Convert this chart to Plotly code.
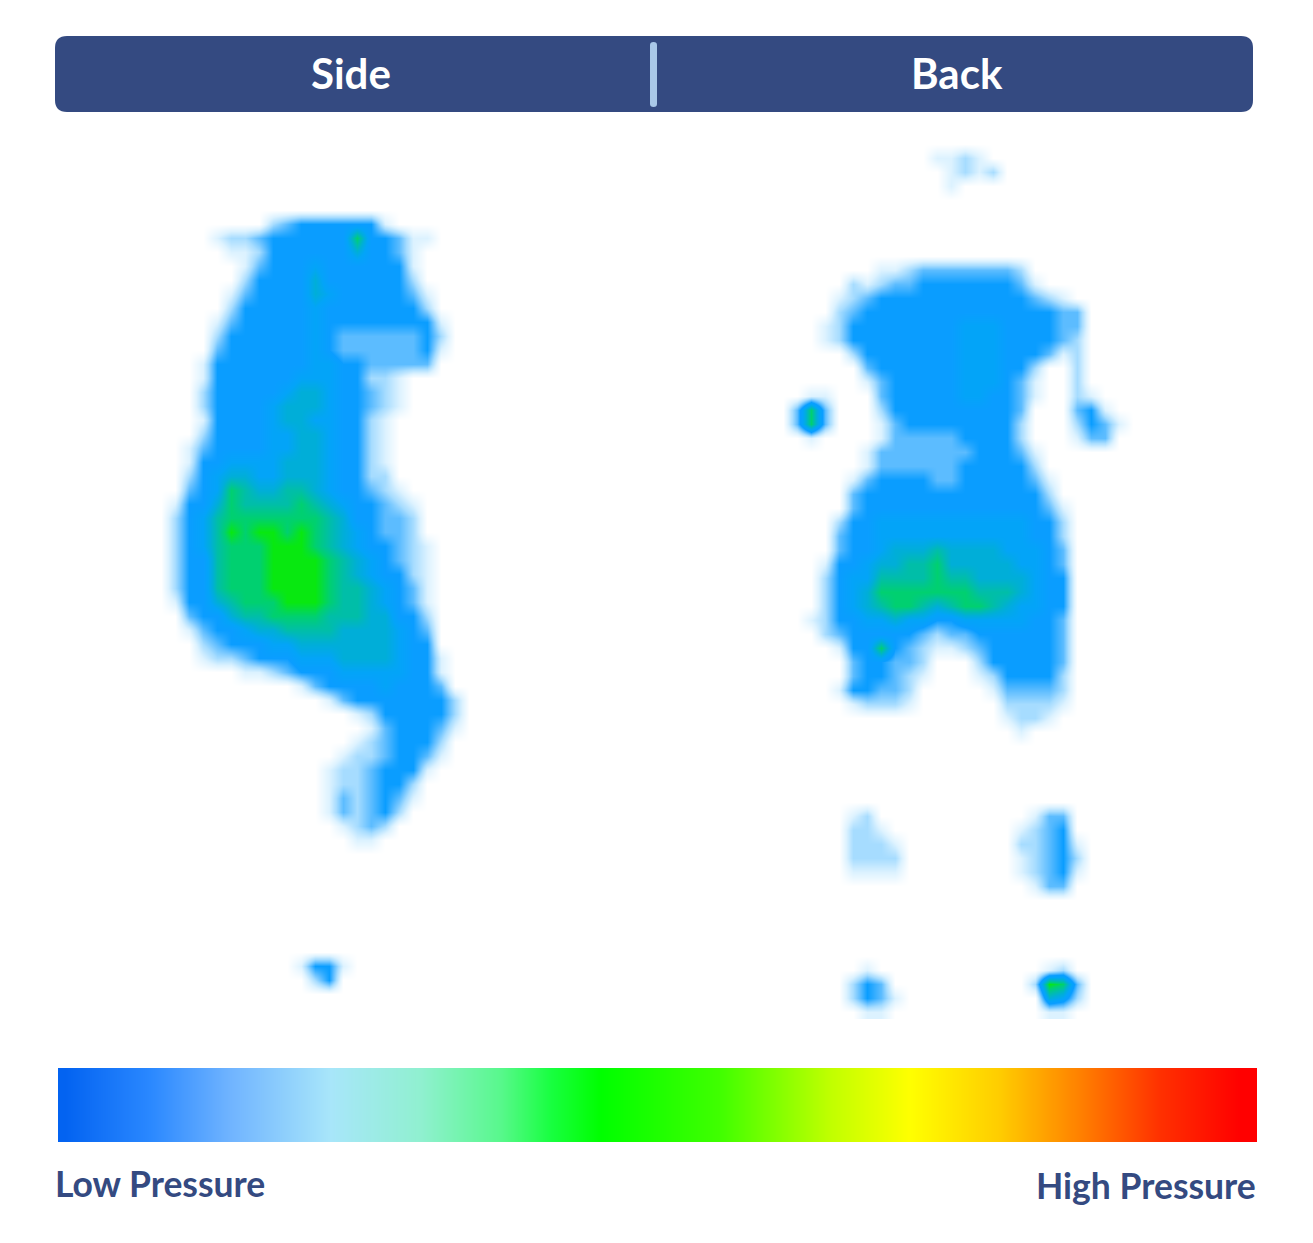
import plotly.graph_objects as go

# ---------- data: pressure levels 0..9, one row per 14 px ----------
# every row is (number of leading empty cells, level digits); the rest of the row is empty
cell = 14
side_x0, side_y0, side_cols = 175, 210, 21
side_rows = [
    (0, ""),
    (7, "234444441"),
    (3, "1223" "444444" "8" "44" "311"),
    (4, "112" "444444" "6" "44" "31"),
    (5, "13" "444" "5" "44444" "41"),
    (5, "2" "4444" "6" "444444" "2"),
    (4, "13" "4444" "65" "44444" "31"),
    (4, "2" "44444" "5" "4444444" "2"),
    (3, "13" "44444" "5" "44444444" "1"),
    (3, "2" "444444" "54" "3" "33333" "42"),
    (3, "3" "444444" "54" "333333" "41"),
    (2, "1" "4444444" "55" "44" "33333"),
    (2, "1" "444444" "555" "44" "221"),
    (2, "2" "44444" "5665" "44" "321"),
    (2, "2" "4444" "56665" "44" "321"),
    (2, "1" "4444" "56655" "44" "21"),
    (2, "2" "4444" "55665" "44" "21"),
    (1, "13" "4444" "55665" "44" "21"),
    (1, "144" "5555" "666" "5" "44" "21"),
    (1, "245" "66" "55" "666" "5" "44" "22"),
    (1, "345" "87667765" "44" "321"),
    (0, "14468" "7777" "8765" "44321"),
    (0, "2457" "8888888" "76" "44" "332"),
    (0, "2457" "98" "99" "898" "76" "54" "332"),
    (0, "2457" "888" "999" "8765" "44" "321"),
    (0, "2447" "888" "9999" "876" "54321"),
    (0, "2447" "888" "9999" "876" "54421"),
    (0, "2447" "888" "9999" "877" "65431"),
    (0, "14467" "888" "999" "877" "65431"),
    (0, "03446" "77" "8888" "777" "66442"),
    (0, "013445" "66" "7777" "6666" "543"),
    (0, "0023" "444" "55" "6666666" "544"),
    (0, "00122" "3" "444" "555" "6666" "5441"),
    (5, "112" "3" "444" "55555" "441"),
    (9, "13" "4444" "5" "444" "3"),
    (11, "13" "4444444" "2"),
    (13, "12" "44444" "2"),
    (14, "13" "444" "31"),
    (13, "123" "444" "2"),
    (12, "1223" "44" "31"),
    (11, "1223" "444" "1"),
    (11, "1223" "44" "2"),
    (11, "1323431"),
    (11, "132342"),
    (12, "1232"),
    (13, "11"),
    (0, ""), (0, ""), (0, ""), (0, ""), (0, ""), (0, ""), (0, ""), (0, ""),
    (9, "1441"),
    (10, "24"),
    (0, ""),
]

back_x0, back_y0, back_cols = 797, 144, 24
back_rows = [
    (0, ""),
    (10, "1121"),
    (11, "1212"),
    (11, "1"),
    (0, ""), (0, ""), (0, ""), (0, ""), (0, ""),
    (6, "112" "3333333" "2"),
    (4, "212" "33" "4444444" "31"),
    (3, "123" "44444444444" "321"),
    (3, "23" "44444444444444" "33"),
    (2, "12" "44444444" "555" "4444" "33"),
    (2, "12" "44444444" "555" "4444" "32"),
    (4, "2" "4444444" "555" "444" "312"),
    (5, "3" "444444" "555" "44" "2002"),
    (5, "13" "44444" "555" "4" "31" "002"),
    (1, "11" "000" "3" "44444" "55" "44" "31" "00" "21"),
    (0, "383" "000" "2" "444444444" "3" "000" "341"),
    (0, "383" "000" "13" "44444444" "2" "000" "2431"),
    (0, "010" "000" "1" "33" "333" "4444" "2" "000" "133"),
    (5, "13" "3333" "33" "444" "31"),
    (5, "133" "33" "33" "44444" "2"),
    (4, "13" "4444" "33" "44444" "31"),
    (4, "3" "4444444444444" "2"),
    (4, "3" "4444444444444" "31"),
    (3, "2" "44" "55555555555" "44" "2"),
    (3, "3" "44" "55555555555" "44" "2"),
    (3, "3" "44" "5" "666" "7" "6666" "555" "43"),
    (2, "1" "44" "5" "66" "77" "8" "66666" "55" "43"),
    (2, "2" "4" "55" "7777" "8" "77" "6666" "5" "44"),
    (2, "2456" "8888888" "777" "65" "44"),
    (2, "2456" "7" "88" "767" "88" "76" "55" "44"),
    (1, "12" "44" "55" "6" "55" "44" "55555" "44" "3"),
    (2, "23" "44444" "32" "33" "444444" "3"),
    (3, "1" "44" "8" "4321123" "44444" "3"),
    (4, "3" "44" "33" "2" "000" "2" "44444" "3"),
    (4, "3" "44" "321" "000" "12" "4444" "2"),
    (3, "1" "44" "33" "2" "00000" "1" "3333" "2"),
    (4, "1" "222" "1" "000000" "2222" "1"),
    (15, "1221"),
    (16, "1"),
    (0, ""), (0, ""), (0, ""), (0, ""), (0, ""),
    (4, "12" "00000000000" "133"),
    (4, "221" "000000000" "1234"),
    (4, "2221" "00000000" "22341"),
    (4, "2222" "00000000" "12342"),
    (4, "1111" "00000000" "12341"),
    (17, "133"),
    (0, ""), (0, ""), (0, ""), (0, ""), (0, ""),
    (5, "1" "000000000000" "12"),
    (4, "243" "0000000000" "2983"),
    (4, "2431" "0000000000" "652"),
    (5, "11" "00000000000" "11"),
]

pressure_levels = [0, 1, 2, 3, 4, 5, 6, 7, 8, 9]
pressure_colors = ["#ffffff", "#dcf2ff", "#a6dcff", "#5cbcff", "#0a9dff",
                   "#03a4f8", "#00aed8", "#00bea8", "#00d070", "#08e810"]

legend_positions = [58, 150, 230, 330, 420, 500, 550, 600, 720, 830, 910, 1000, 1080, 1160, 1240, 1257]
legend_colors = ["#0060f0", "#2a88ff", "#70b4ff", "#a8e6fa", "#90f0d0", "#58f88c", "#18ff40", "#00ff00",
                 "#40ff00", "#c0ff00", "#ffff00", "#ffcc00", "#ff8000", "#ff3000", "#ff0000", "#ff0000"]

header_labels = ["Side", "Back"]
legend_labels = ["Low Pressure", "High Pressure"]
NAVY = "#344a81"


def to_grid(rows, cols):
    # one empty column either side so the edges fade out rather than stop dead
    return [[0] + [int(c) for c in ("0" * start + digits).ljust(cols, "0")[:cols]] + [0]
            for start, digits in rows]


scale = [[lv / 9, col] for lv, col in zip(pressure_levels, pressure_colors)]
fig = go.Figure()

for rows, cols, x0, y0 in [(side_rows, side_cols, side_x0, side_y0),
                           (back_rows, back_cols, back_x0, back_y0)]:
    fig.add_trace(go.Heatmap(z=to_grid(rows, cols), x0=x0 - cell, dx=cell, y0=y0, dy=cell,
                             zmin=0, zmax=9, colorscale=scale, zsmooth="best",
                             showscale=False, hoverinfo="skip"))

# legend bar: narrow columns whose value is their own horizontal position
legend_start, legend_end = legend_positions[0], legend_positions[-1]
legend_step = (legend_end - legend_start) / 100
legend_x = [legend_start + legend_step * (i + 0.5) for i in range(100)]
legend_scale = [[(p - legend_start) / (legend_end - legend_start), c]
                for p, c in zip(legend_positions, legend_colors)]
fig.add_trace(go.Heatmap(z=[legend_x], x=legend_x, y0=1105, dy=74,
                         zmin=legend_start, zmax=legend_end, colorscale=legend_scale, zsmooth="best",
                         showscale=False, hoverinfo="skip"))

fig.update_layout(
    width=1313, height=1243, margin=dict(l=0, r=0, t=0, b=0, pad=0),
    paper_bgcolor="white", plot_bgcolor="white", showlegend=False,
    xaxis=dict(range=[0, 1313], visible=False, fixedrange=True),
    yaxis=dict(range=[1243, 0], visible=False, fixedrange=True),
    shapes=[
        dict(type="path", layer="above", line_width=0, fillcolor=NAVY,
             path="M 67 36 L 1241 36 Q 1253 36 1253 48 L 1253 100 Q 1253 112 1241 112 "
                  "L 67 112 Q 55 112 55 100 L 55 48 Q 55 36 67 36 Z"),
        dict(type="path", layer="above", line_width=0, fillcolor="#a9c8e8",
             path="M 650 45 Q 650 42 653.5 42 Q 657 42 657 45 L 657 104 Q 657 107 653.5 107 "
                  "Q 650 107 650 104 Z"),
    ],
    annotations=[
        dict(x=351, y=73, text=header_labels[0], showarrow=False, xanchor="center", yanchor="middle",
             font=dict(family="Lato", size=42, color="white", weight=700)),
        dict(x=957, y=73, text=header_labels[1], showarrow=False, xanchor="center", yanchor="middle",
             font=dict(family="Lato", size=42, color="white", weight=700)),
        dict(x=55, y=1183, text=legend_labels[0], showarrow=False, xanchor="left", yanchor="middle",
             xshift=-2, font=dict(family="Lato", size=35.5, color=NAVY, weight=700)),
        dict(x=1256, y=1185, text=legend_labels[1], showarrow=False, xanchor="right", yanchor="middle",
             xshift=2, font=dict(family="Lato", size=35.5, color=NAVY, weight=700)),
    ],
)

fig.write_html("out.html", post_script="document.body.style.margin='0';",
               config={"displayModeBar": False})
